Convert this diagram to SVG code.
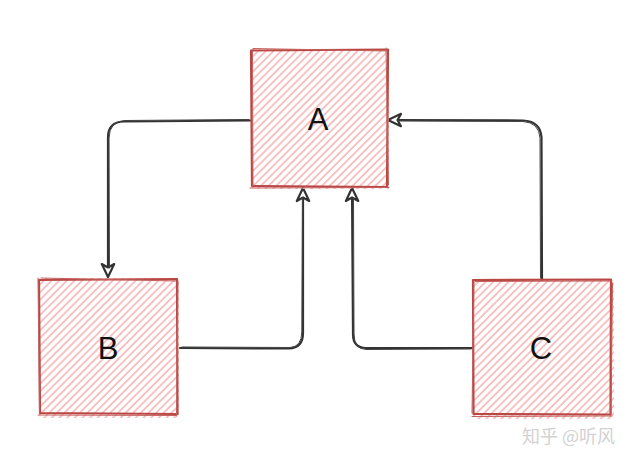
<svg xmlns="http://www.w3.org/2000/svg" width="638" height="462" viewBox="0 0 638 462">
<defs>
<pattern id="hatch" patternUnits="userSpaceOnUse" width="5.4" height="5.4" patternTransform="rotate(45)">
<line x1="2.7" y1="0" x2="2.7" y2="5.4" stroke="#f6c0c0" stroke-width="1.9"/>
</pattern>
<marker id="arr" viewBox="0 0 16 16" refX="14.5" refY="8" markerWidth="16" markerHeight="16" markerUnits="userSpaceOnUse" orient="auto">
<path d="M1.5,1.8 L14.5,8 L1.5,14.2 L5,8 Z" fill="#fff" stroke="#333" stroke-width="2.2" stroke-linejoin="round"/>
</marker>
</defs>
<style>
.hatch{fill:url(#hatch);stroke:none}
.edge{fill:none;stroke:#b94845;stroke-width:2.2;stroke-linecap:round;stroke-linejoin:round}
.edge2{fill:none;stroke:#c4605d;stroke-width:1;stroke-linecap:round}
.lbl{font-family:"Liberation Sans",Arial,sans-serif;font-size:31px;fill:#111;text-anchor:middle}
.conn{fill:none;stroke:#333;stroke-width:2.2;stroke-linecap:round;stroke-linejoin:round}
.conn2{fill:none;stroke:#444;stroke-width:1;stroke-linecap:round}
.wm{font-family:"Noto Sans CJK SC","Liberation Sans",sans-serif;font-size:18px;fill:#d2d2d2}
</style>
<rect width="638" height="462" fill="#fff"/>

<g id="connectors">
<path class="conn" d="M250,120.5 L124,121.5 Q108,122 108,137 L108,277" marker-end="url(#arr)"/>
<path class="conn2" d="M249,119.5 L125,120.5 Q109.5,121 109,138 L109.5,268"/>
<path class="conn" d="M180,348 L289,348.5 Q303,348 303,333 L303,188" marker-end="url(#arr)"/>
<path class="conn2" d="M182,347 L290,347.5 Q301.5,347 301.8,332 L302.5,198"/>
<path class="conn" d="M473,348 L366,348 Q353,348 353,334 L352,188" marker-end="url(#arr)"/>
<path class="conn2" d="M471,349 L366,349.5 Q354,349 354,334 L353.5,198"/>
<path class="conn" d="M542,280 L541.5,137 Q540,121 523,120.5 L388,120" marker-end="url(#arr)"/>
<path class="conn2" d="M540.5,278 L540,138 Q539,122.5 523,121.5 L398,121"/>
</g>

<g id="node-A">
<rect class="hatch" x="252" y="49" width="137" height="140"/>
<path class="edge" d="M251,50.5 L388,49.5 L387,187 L252,186 Z"/>
<path class="edge2" d="M253,48.5 L386,51 M386,48 L388.5,185 M389,187.5 L250,188 M253,187 L252.5,51"/>
<text class="lbl" x="318" y="130">A</text>
</g>

<g id="node-B">
<rect class="hatch" x="39" y="278" width="140" height="140"/>
<path class="edge" d="M39,280 L177,279 L177.5,414 L40,413 Z"/>
<path class="edge2" d="M41,278 L176,281 M178,281 L176.5,416 M176,415.5 L38,415 M38,278 L39.5,412"/>
<text class="lbl" x="108" y="359">B</text>
</g>

<g id="node-C">
<rect class="hatch" x="473" y="279" width="141" height="140"/>
<path class="edge" d="M473,280 L611,279.5 L610.5,414.5 L473.5,414 Z"/>
<path class="edge2" d="M475,281.5 L612,281 M612.5,283 L611,415 M612,416 L472,416.5 M472,413 L474,282"/>
<text class="lbl" x="541" y="359">C</text>
</g>

<text class="wm" x="522" y="443">知乎 @听风</text>
</svg>
